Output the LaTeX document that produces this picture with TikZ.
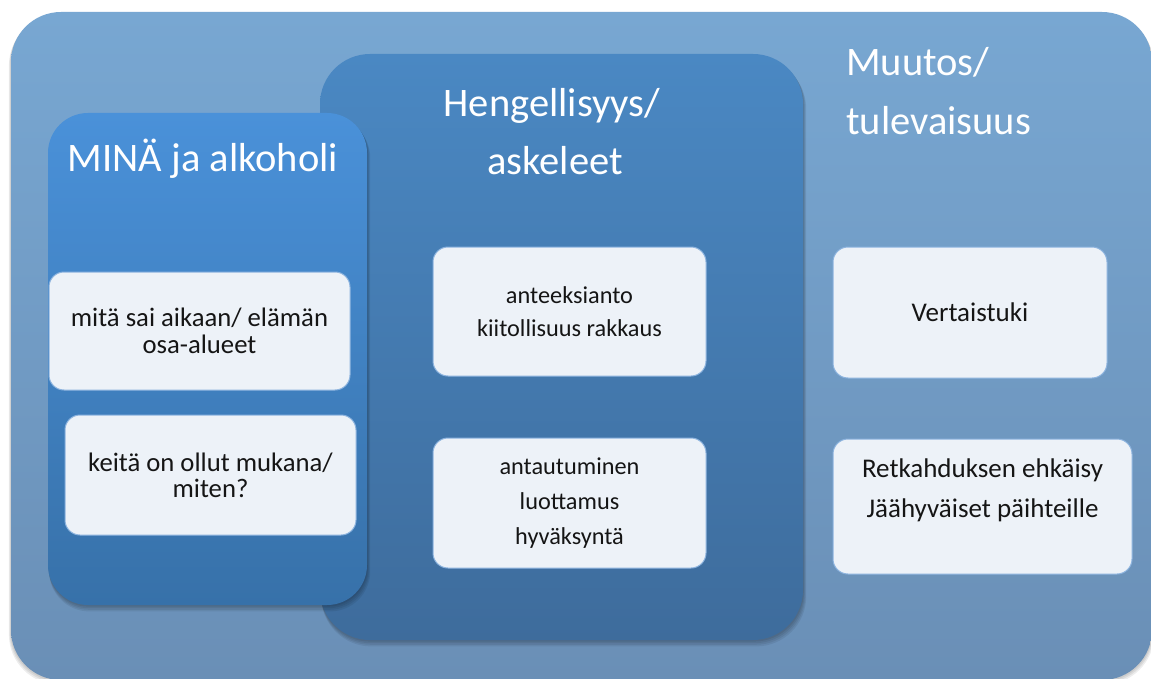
\documentclass[tikz,border=0pt]{standalone}
\usepackage{fontspec}
\setmainfont{Carlito}
\definecolor{outerTop}{HTML}{78A7D2}
\definecolor{outerBot}{HTML}{6A8FB6}
\definecolor{midTop}{HTML}{4A88C3}
\definecolor{midBot}{HTML}{3E6C9C}
\definecolor{leftTop}{HTML}{4A91D9}
\definecolor{leftBot}{HTML}{3771A9}
\definecolor{boxFill}{HTML}{EDF2F8}
\definecolor{boxLine}{HTML}{8CB3DE}
\definecolor{boxText}{HTML}{151515}
\begin{document}
\begin{tikzpicture}[x=1pt,y=-1pt,
  wbox/.style={draw=boxLine, line width=1pt, fill=boxFill, rounded corners=15pt,
    align=center, text=boxText, inner sep=0pt},
  title/.style={text=white, inner sep=0pt, font=\fontsize{40.5}{46}\selectfont},
  shadowlayer/.style={fill=black, opacity=0.07}]
\useasboundingbox (0,0) rectangle (1151,679);
\fill[white] (0,0) rectangle (1151,679);
% outer panel
\foreach \i in {1,2,3} {
  \fill[shadowlayer, rounded corners=50pt] (11-\i*0.7,12+\i*1.2) rectangle (1152+\i*0.7,680+\i*1.5);
}
\shade[top color=outerTop, bottom color=outerBot, rounded corners=50pt] (11,12) rectangle (1152,680);
% middle panel
\foreach \i in {1,2,3,4} {
  \fill[shadowlayer, rounded corners=50pt] (320+\i*0.3,54+\i*1.2) rectangle (803+\i*0.8,640+\i*1.6);
}
\shade[top color=midTop, bottom color=midBot, rounded corners=50pt] (320,54) rectangle (803,640);
% left panel
\foreach \i in {1,2,3,4} {
  \fill[shadowlayer, rounded corners=40pt] (48+\i*0.3,113+\i*1.2) rectangle (367+\i*0.8,605+\i*1.6);
}
\shade[top color=leftTop, bottom color=leftBot, rounded corners=40pt] (48,113) rectangle (367,605);

% titles
\node[title, anchor=base] (mina) at (203,172) {MINÄ ja alkoholi};
\node[title, anchor=base] (hen1) at (552,117) {Hengellisyys/};
\node[title, anchor=base] (hen2) at (555,175) {askeleet};
\node[title, anchor=base west] (muu1) at (846,76) {Muutos/};
\node[title, anchor=base west] (muu2) at (846,135) {tulevaisuus};

% boxes
\node[wbox, minimum width=301pt, minimum height=118pt, font=\fontsize{26.7}{27}\selectfont]
  (b1) at (199.5,331) {mitä sai aikaan/ elämän\\osa-alueet};
\node[wbox, minimum width=291pt, minimum height=120pt, font=\fontsize{26.7}{26}\selectfont]
  (b2) at (210.5,475) {keitä on ollut mukana/\\miten?};
\node[wbox, minimum width=273pt, minimum height=129pt, font=\fontsize{24.3}{33}\selectfont]
  (b3) at (569.5,311.5) {anteeksianto\\kiitollisuus rakkaus};
\node[wbox, minimum width=273pt, minimum height=130pt, font=\fontsize{24.3}{35}\selectfont]
  (b4) at (569.5,503) {antautuminen\\luottamus\\hyväksyntä};
\node[wbox, minimum width=274pt, minimum height=131pt, font=\fontsize{27}{30}\selectfont]
  (b5) at (970,312.5) {Vertaistuki};
\node[wbox, minimum width=299pt, minimum height=135pt] (b6) at (982.5,506.5) {};
\node[align=center, text=boxText, inner sep=0pt, font=\fontsize{27}{40}\selectfont]
  (b6t) at (982.5,490) {Retkahduksen ehkäisy\\Jäähyväiset päihteille};
\end{tikzpicture}
\end{document}
